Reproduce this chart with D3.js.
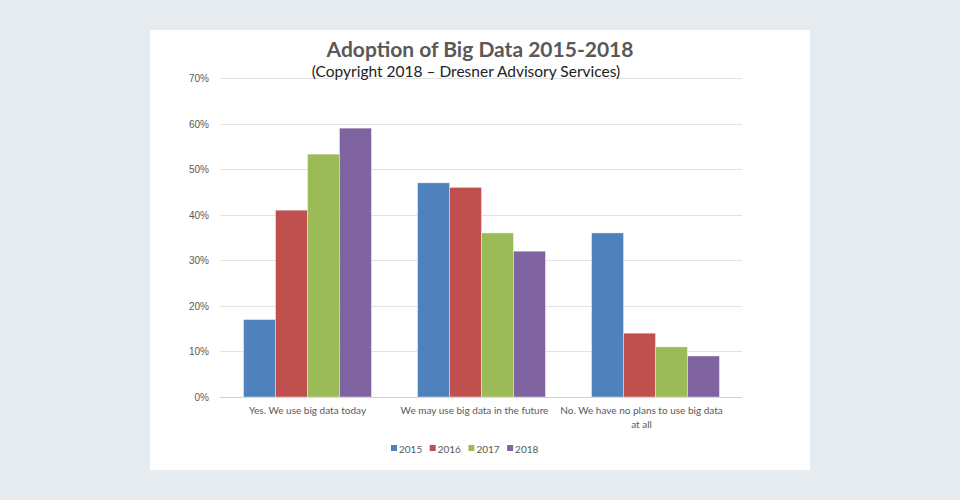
<!DOCTYPE html>
<html>
<head>
<meta charset="utf-8">
<script src="https://cdn.jsdelivr.net/npm/d3@7"></script>
<style>
  body { margin: 0; background: #e6ebef; }
  svg { display: block; font-family: Lato, "Open Sans", sans-serif; }
</style>
</head>
<body>
<svg id="chart" width="960" height="500"></svg>
<script>
var categories = ['Yes. We use big data today', 'We may use big data in the future', 'No. We have no plans to use big data|at all'];
var years = ['2015', '2016', '2017', '2018'];
var v2015 = [17, 47, 36];
var v2016 = [41, 46, 14];
var v2017 = [53.3, 36, 11];
var v2018 = [59, 32, 9];
var yTicks = [0, 10, 20, 30, 40, 50, 60, 70];
var colors = ['#4f81bd', '#c0504d', '#9bbb59', '#8064a2'];

var series = [v2015, v2016, v2017, v2018];

var svg = d3.select('#chart');
svg.append('rect').attr('x', 150).attr('y', 30).attr('width', 660).attr('height', 440).attr('fill', '#fff');

var x0 = d3.scaleBand().domain(categories).range([220.5, 742.5]).paddingInner(0.265).paddingOuter(0.1325);
var x1 = d3.scaleBand().domain(years).range([0, x0.bandwidth()]);
var y = d3.scaleLinear().domain([0, 70]).range([397, 78]);

// grid
svg.append('g').selectAll('line').data(yTicks).enter().append('line')
    .attr('x1', 220).attr('x2', 742)
    .attr('y1', function(d) { return Math.round(y(d)) + 0.5; })
    .attr('y2', function(d) { return Math.round(y(d)) + 0.5; })
    .attr('stroke', function(d) { return d === 0 ? '#d0d0d0' : '#e2e2e2'; })
    .attr('stroke-width', 1);

var yAxis = d3.axisLeft(y).tickValues(yTicks).tickFormat(function(d) { return d + '%'; }).tickSize(0).tickPadding(0);
var ga = svg.append('g').attr('transform', 'translate(209,0)').call(yAxis);
ga.select('.domain').remove();
ga.selectAll('text').attr('fill', '#595959').style('font-size', '10px').attr('dy', '0.35em');

// bars
var g = svg.append('g').selectAll('g').data(categories).enter().append('g')
    .attr('transform', function(d) { return 'translate(' + x0(d) + ',0)'; });
g.selectAll('rect').data(function(d, i) {
    return years.map(function(yr, j) { return { year: yr, value: series[j][i], color: colors[j] }; });
}).enter().append('rect')
    .attr('x', function(d) { return x1(d.year); })
    .attr('y', function(d) { return y(d.value); })
    .attr('width', x1.bandwidth())
    .attr('height', function(d) { return y(0) - y(d.value); })
    .attr('fill', function(d) { return d.color; })
    .attr('stroke', 'rgba(255,255,255,0.5)')
    .attr('stroke-width', 0.8);

// category labels (Excel nudges them slightly left)
var cl = svg.append('g').selectAll('text').data(categories).enter().append('text')
    .attr('y', 414)
    .attr('text-anchor', 'middle')
    .attr('fill', '#595959')
    .style('font-size', '10px');
cl.each(function(d, k) {
    var parts = d.split('|');
    var t = d3.select(this);
    var cx = x0(d) + x0.bandwidth() / 2 - k * 7;
    parts.forEach(function(p, i) {
        t.append('tspan').attr('x', cx).attr('dy', i === 0 ? 0 : 14).text(p);
    });
});

// legend
var lg = svg.append('g').attr('transform', 'translate(391,449)');
years.forEach(function(yr, i) {
    var lx = i * 38.7;
    lg.append('rect').attr('x', lx).attr('y', -4).attr('width', 6).attr('height', 6).attr('fill', colors[i]);
    lg.append('text').attr('x', lx + 8).attr('y', 0).attr('dy', '0.35em').attr('fill', '#595959')
        .style('font-size', '10px').text(yr);
});

// titles
svg.append('text').attr('x', 480).attr('y', 57).attr('text-anchor', 'middle').attr('fill', '#595959')
    .style('font-size', '21px').style('font-weight', 'bold').text('Adoption of Big Data 2015-2018');
svg.append('text').attr('x', 466).attr('y', 77).attr('text-anchor', 'middle').attr('fill', '#222')
    .style('font-size', '15.5px').text('(Copyright 2018 \u2013 Dresner Advisory Services)');
</script>
</body>
</html>
